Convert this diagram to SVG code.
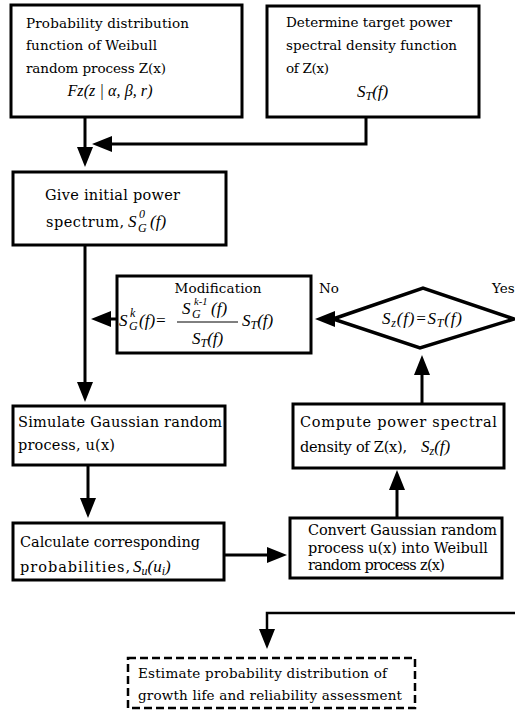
<svg xmlns="http://www.w3.org/2000/svg" width="515" height="715" viewBox="0 0 515 715">
<style>
.box{fill:#fff;stroke:#000;stroke-width:3}
.dash{fill:#fff;stroke:#000;stroke-width:2.5;stroke-dasharray:8 4}
.t{font-family:"DejaVu Serif","Liberation Serif",serif;font-size:14.5px;fill:#000}
.sm{font-size:13.5px}
.m{font-family:"Liberation Serif","DejaVu Serif",serif;font-style:italic;font-size:17px;fill:#000}
.s{font-size:12px}
.c{fill:none;stroke:#000;stroke-width:3}
</style>
<defs>
<marker id="ah" viewBox="0 0 20 16" refX="10" refY="8" markerWidth="20" markerHeight="16" markerUnits="userSpaceOnUse" orient="auto">
<path d="M0,0 L20,8 L0,16 z" fill="#000"/>
</marker>
</defs>
<rect width="515" height="715" fill="#fff"/>
<g id="connectors">
<path class="c" d="M85,117 V157" marker-end="url(#ah)"/>
<path class="c" d="M366,117 V144 H102" marker-end="url(#ah)"/>
<path class="c" d="M85,245 V392" marker-end="url(#ah)"/>
<path class="c" d="M117,319 H101" marker-end="url(#ah)"/>
<path class="c" d="M333,319 H325" marker-end="url(#ah)"/>
<path class="c" d="M422,404 V365" marker-end="url(#ah)"/>
<path class="c" d="M397,518 V480" marker-end="url(#ah)"/>
<path class="c" d="M88,465 V508" marker-end="url(#ah)"/>
<path class="c" d="M224,555 H277" marker-end="url(#ah)"/>
<path class="c" d="M515,613 H267 V639" marker-end="url(#ah)" style="stroke-width:2.5"/>
</g>
<g id="n1">
<rect class="box" x="11" y="5" width="231" height="112"/>
<text class="t sm" x="26" y="28" textLength="163">Probability distribution</text>
<text class="t sm" x="26" y="50" textLength="131">function of Weibull</text>
<text class="t sm" x="26" y="73" textLength="140">random process Z(x)</text>
<text class="m" x="110" y="96" text-anchor="middle" textLength="85" style="font-size:16px">Fz(z | α, β, r)</text>
</g>
<g id="n2">
<rect class="box" x="267" y="6" width="212" height="111"/>
<text class="t sm" x="286" y="27" textLength="166">Determine target power</text>
<text class="t sm" x="286" y="50" textLength="171">spectral density function</text>
<text class="t sm" x="286" y="73" textLength="43">of Z(x)</text>
<text class="m" x="357" y="97">S<tspan class="s" dy="3">T</tspan><tspan dy="-3">(f)</tspan></text>
</g>
<g id="n3">
<rect class="box" x="13" y="172" width="213" height="73"/>
<text class="t" x="45" y="200" textLength="135">Give initial power</text>
<text class="t" x="46" y="227" textLength="78">spectrum,</text>
<text class="m" x="128" y="227">S</text>
<text class="m s" x="139" y="218">0</text>
<text class="m s" x="138" y="232">G</text>
<text class="m" x="150" y="227">(f)</text>
</g>
<g id="n4">
<rect class="box" x="117" y="276" width="194" height="77"/>
<text class="t sm" x="218" y="293" text-anchor="middle" textLength="87">Modification</text>
<text class="m" x="119" y="326">S</text>
<text class="m s" x="130" y="317">k</text>
<text class="m s" x="129" y="330">G</text>
<text class="m" x="139" y="326">(f)=</text>
<line x1="177" y1="322" x2="238" y2="322" stroke="#000" stroke-width="1"/>
<text class="m" x="182" y="314">S</text>
<text class="m" x="194" y="305" style="font-size:10.5px">k-1</text>
<text class="m s" x="192" y="318">G</text>
<text class="m" x="211" y="314">(f)</text>
<text class="m" x="192" y="344">S<tspan class="s" dy="3">T</tspan><tspan dy="-3">(f)</tspan></text>
<text class="m" x="242" y="326">S<tspan class="s" dy="3">T</tspan><tspan dy="-3">(f)</tspan></text>
</g>
<g id="n5">
<polygon points="333,319 423,288 514,319 420,348" fill="#fff" stroke="#000" stroke-width="3.5" stroke-linejoin="miter"/>
<text class="m" x="382" y="324" textLength="80">S<tspan class="s" dy="3">z</tspan><tspan dy="-3">(f)=S</tspan><tspan class="s" dy="3">T</tspan><tspan dy="-3">(f)</tspan></text>
<text class="t sm" x="319" y="293">No</text>
<text class="t sm" x="492" y="293">Yes</text>
</g>
<g id="n6">
<rect class="box" x="13" y="406" width="212" height="59"/>
<text class="t" x="18" y="427" textLength="204">Simulate Gaussian random</text>
<text class="t" x="18" y="450" textLength="97">process, u(x)</text>
</g>
<g id="n7">
<rect class="box" x="293" y="404" width="211" height="64"/>
<text class="t" x="300" y="427" textLength="197">Compute power spectral</text>
<text class="t" x="300" y="452" textLength="107">density of Z(x),</text>
<text class="m" x="421" y="452">S<tspan class="s" dy="3">z</tspan><tspan dy="-3">(f)</tspan></text>
</g>
<g id="n8">
<rect class="box" x="13" y="523" width="211" height="57"/>
<text class="t" x="20" y="547" textLength="180">Calculate corresponding</text>
<text class="t" x="20" y="572" textLength="110">probabilities,</text>
<text class="m" x="133" y="572">S<tspan class="s" dy="3">u</tspan><tspan dy="-3">(u</tspan><tspan class="s" dy="3">i</tspan><tspan dy="-3">)</tspan></text>
</g>
<g id="n9">
<rect class="box" x="290" y="518" width="212" height="60"/>
<text class="t" x="308" y="535" textLength="189">Convert Gaussian random</text>
<text class="t" x="308" y="553" textLength="180">process u(x) into Weibull</text>
<text class="t" x="308" y="570" textLength="137">random process z(x)</text>
</g>
<g id="n10">
<rect class="dash" x="128" y="658" width="287" height="50"/>
<text class="t sm" x="138" y="678" textLength="249">Estimate probability distribution of</text>
<text class="t sm" x="138" y="700" textLength="264">growth life and reliability assessment</text>
</g>
</svg>
